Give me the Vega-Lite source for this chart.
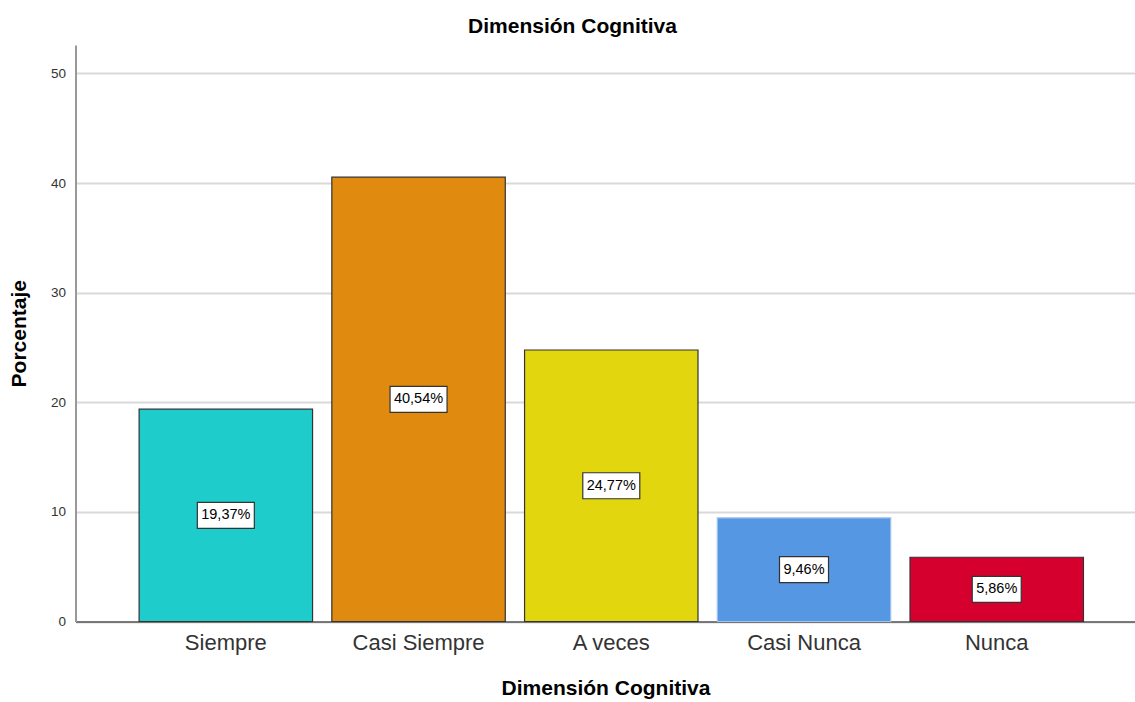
{
  "$schema": "https://vega.github.io/schema/vega-lite/v6.json",
  "autosize": "none",
  "width": 1060,
  "height": 576.5,
  "padding": {"left": 75.5, "top": 45, "right": 0, "bottom": 80.5},
  "background": "white",
  "config": {"view": {"stroke": null}, "font": "Liberation Sans"},
  "title": {"text": "Dimensión Cognitiva", "fontSize": 21, "fontWeight": "bold", "color": "#000000", "font": "Liberation Sans", "anchor": "middle", "dx": -33, "offset": 8},
  "data": {"values": [
    {"cat": "Siempre", "value": 19.37, "label": "19,37%"},
    {"cat": "Casi Siempre", "value": 40.54, "label": "40,54%"},
    {"cat": "A veces", "value": 24.77, "label": "24,77%"},
    {"cat": "Casi Nunca", "value": 9.46, "label": "9,46%"},
    {"cat": "Nunca", "value": 5.86, "label": "5,86%"}
  ]},
  "encoding": {
    "x": {"field": "cat", "type": "nominal", "sort": null,
      "scale": {"paddingInner": 0.1, "paddingOuter": 0.3, "align": 0.55},
      "axis": {"title": "Dimensión Cognitiva", "titleFontSize": 21, "titleFontWeight": "bold", "titleColor": "#000000", "titlePadding": 24, "labelAngle": 0, "labelFontSize": 22, "labelColor": "#333333", "labelPadding": 11, "ticks": false, "domainColor": "#555555", "domainWidth": 1.5, "grid": false}}
  },
  "layer": [
    {
      "mark": {"type": "bar", "strokeWidth": 1.2},
      "encoding": {
        "y": {"field": "value", "type": "quantitative",
          "scale": {"domain": [0, 52.6], "nice": false},
          "axis": {"title": "Porcentaje", "titleFontSize": 21, "titleFontWeight": "bold", "titleColor": "#000000", "titlePadding": 21, "values": [0, 10, 20, 30, 40, 50], "labelFontSize": 13.5, "labelColor": "#333333", "labelPadding": 10, "ticks": false, "domainColor": "#999999", "domainWidth": 2, "gridColor": "#d9d9d9", "gridWidth": 2}},
        "color": {"field": "cat", "type": "nominal", "sort": null, "legend": null,
          "scale": {"domain": ["Siempre", "Casi Siempre", "A veces", "Casi Nunca", "Nunca"], "range": ["#1ECDCB", "#E08A10", "#E2D60F", "#5697E4", "#D6002F"]}},
        "stroke": {"condition": {"test": "datum.cat === 'Casi Nunca'", "value": "#9fc3ee"}, "value": "#333333"}
      }
    },
    {
      "transform": [{"filter": "datum.value >= 10"}, {"calculate": "datum.value / 2", "as": "mid"}],
      "mark": {"type": "point", "shape": "M-1,-0.456L1,-0.456L1,0.456L-1,0.456Z", "size": 3249, "filled": true, "fill": "white", "stroke": "#333333", "strokeWidth": 1.2, "opacity": 1},
      "encoding": {"y": {"field": "mid", "type": "quantitative"}}
    },
    {
      "transform": [{"filter": "datum.value < 10"}, {"calculate": "datum.value / 2", "as": "mid"}],
      "mark": {"type": "point", "shape": "M-1,-0.531L1,-0.531L1,0.531L-1,0.531Z", "size": 2401, "filled": true, "fill": "white", "stroke": "#333333", "strokeWidth": 1.2, "opacity": 1},
      "encoding": {"y": {"field": "mid", "type": "quantitative"}}
    },
    {
      "transform": [{"calculate": "datum.value / 2", "as": "mid"}],
      "mark": {"type": "text", "fontSize": 14.5, "color": "#000000", "font": "Liberation Sans", "baseline": "middle"},
      "encoding": {"y": {"field": "mid", "type": "quantitative"}, "text": {"field": "label"}}
    }
  ]
}
